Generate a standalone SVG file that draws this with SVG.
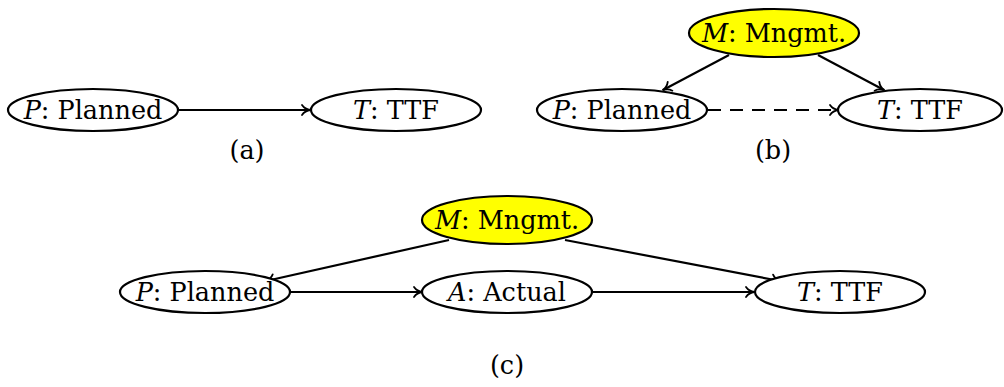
<svg xmlns="http://www.w3.org/2000/svg" width="1004" height="387" viewBox="0 0 1004 387">
  <style>
    .node ellipse { fill: #ffffff; stroke: #000000; stroke-width: 2.2; }
    .node.mgmt ellipse { fill: #ffff00; }
    text { font-family: "DejaVu Serif", "Liberation Serif", serif; font-size: 25.5px; fill: #000000; text-anchor: middle; }
    .var { font-style: italic; }
    .edge { stroke: #000000; stroke-width: 2.2; fill: none; marker-end: url(#to); }
    .dashed { stroke-dasharray: 13 9; }
  </style>
  <defs>
    <marker id="to" markerUnits="userSpaceOnUse" markerWidth="16" markerHeight="16" viewBox="-12 -8 16 16" refX="0" refY="0" orient="auto" overflow="visible">
      <path d="M -8,-5 C -6,-2 -2.5,-0.4 0.6,0 C -2.5,0.4 -6,2 -8,5" fill="none" stroke="#000000" stroke-width="1.8" stroke-linecap="round"/>
    </marker>
  </defs>

  <!-- connectors -->
  <g id="connectors">
    <!-- (a) -->
    <line class="edge" x1="178" y1="110" x2="310" y2="110"/>
    <!-- (b) -->
    <line class="edge" x1="729" y1="55" x2="663" y2="90"/>
    <line class="edge" x1="818" y1="55" x2="884" y2="90"/>
    <line class="edge dashed" x1="708" y1="110" x2="838" y2="110"/>
    <!-- (c) -->
    <line class="edge" x1="449" y1="240" x2="266" y2="281"/>
    <line class="edge" x1="565" y1="240" x2="780" y2="281"/>
    <line class="edge" x1="291" y1="292" x2="422" y2="292"/>
    <line class="edge" x1="593" y1="292" x2="754" y2="292"/>
  </g>

  <!-- (a) -->
  <g id="a-planned" class="node">
    <ellipse cx="93" cy="110" rx="85" ry="21"/>
    <text x="93" y="119"><tspan class="var">P</tspan>: Planned</text>
  </g>
  <g id="a-ttf" class="node">
    <ellipse cx="396" cy="110" rx="85" ry="21"/>
    <text x="396" y="119"><tspan class="var">T</tspan>: TTF</text>
  </g>
  <text x="247" y="159">(a)</text>

  <!-- (b) -->
  <g id="b-mgmt" class="node mgmt">
    <ellipse cx="774" cy="33" rx="85" ry="24"/>
    <text x="774" y="42"><tspan class="var">M</tspan>: Mngmt.</text>
  </g>
  <g id="b-planned" class="node">
    <ellipse cx="622" cy="110" rx="85" ry="21"/>
    <text x="622" y="119"><tspan class="var">P</tspan>: Planned</text>
  </g>
  <g id="b-ttf" class="node">
    <ellipse cx="920" cy="110" rx="82" ry="21"/>
    <text x="920" y="119"><tspan class="var">T</tspan>: TTF</text>
  </g>
  <text x="773" y="159">(b)</text>

  <!-- (c) -->
  <g id="c-mgmt" class="node mgmt">
    <ellipse cx="507" cy="220" rx="85" ry="24"/>
    <text x="507" y="229"><tspan class="var">M</tspan>: Mngmt.</text>
  </g>
  <g id="c-planned" class="node">
    <ellipse cx="205" cy="292" rx="85" ry="21"/>
    <text x="205" y="301"><tspan class="var">P</tspan>: Planned</text>
  </g>
  <g id="c-actual" class="node">
    <ellipse cx="507" cy="292" rx="85" ry="21"/>
    <text x="507" y="301"><tspan class="var">A</tspan>: Actual</text>
  </g>
  <g id="c-ttf" class="node">
    <ellipse cx="840" cy="292" rx="85" ry="21"/>
    <text x="840" y="301"><tspan class="var">T</tspan>: TTF</text>
  </g>
  <text x="507" y="374">(c)</text>
</svg>
